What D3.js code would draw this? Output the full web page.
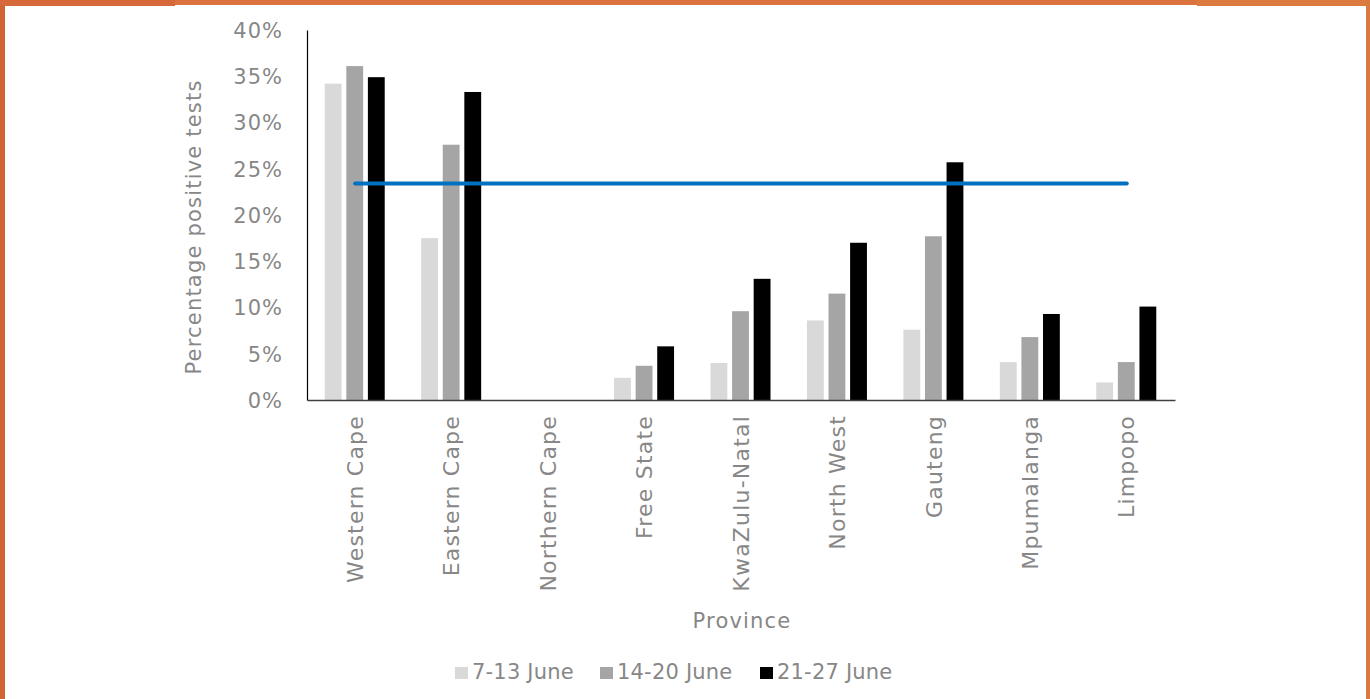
<!DOCTYPE html>
<html>
<head>
<meta charset="utf-8">
<script src="https://cdn.jsdelivr.net/npm/d3@7/dist/d3.min.js"></script>
<style>
  html, body { margin: 0; padding: 0; background: #fff; }
  svg { display: block; }
  text { font-family: "DejaVu Sans", sans-serif; fill: #878787; font-weight: 400; letter-spacing: 1.2px; }
</style>
</head>
<body>
<svg id="chart" width="1370" height="699"></svg>
<script>
const provinces = ["Western Cape", "Eastern Cape", "Northern Cape", "Free State", "KwaZulu-Natal", "North West", "Gauteng", "Mpumalanga", "Limpopo"];
const seriesNames = ["7-13 June", "14-20 June", "21-27 June"];
const week1 = [34.2, 17.5, 0, 2.4, 4.0, 8.6, 7.6, 4.1, 1.9];
const week2 = [36.1, 27.6, 0, 3.7, 9.6, 11.5, 17.7, 6.8, 4.1];
const week3 = [34.9, 33.3, 0, 5.8, 13.1, 17.0, 25.7, 9.3, 10.1];
const nationalAverage = 23.4;
const yTicks = [0, 5, 10, 15, 20, 25, 30, 35, 40];
const colors = ["#d9d9d9", "#a5a5a5", "#000000"];

(function () {
const svg = d3.select("#chart");
const W = 1370, H = 699;
const textFill = "#878787";

// frame border
svg.append("rect").attr("x", 0).attr("y", 0).attr("width", 5).attr("height", H).attr("fill", "#cf6535");
svg.append("rect").attr("x", 0).attr("y", 0).attr("width", 175).attr("height", 6).attr("fill", "#d6683a");
svg.append("rect").attr("x", 175).attr("y", 0).attr("width", 1022).attr("height", 5).attr("fill", "#dc723d");
svg.append("rect").attr("x", 1197).attr("y", 0).attr("width", 173).attr("height", 6).attr("fill", "#db793f");
svg.append("rect").attr("x", 1366).attr("y", 0).attr("width", 4).attr("height", H).attr("fill", "#da793f");

const mLeft = 307, mRight = 1175, mTop = 30, mBottom = 400;

const x = d3.scaleBand().domain(provinces).range([mLeft, mRight]).paddingInner(0).paddingOuter(0);
const y = d3.scaleLinear().domain([0, 40]).range([mBottom, mTop]);
const groupW = 60;
const xs = d3.scaleBand().domain(seriesNames).range([0, groupW]).paddingInner(0.22);
const groupOffset = (x.bandwidth() - groupW) / 2 - 0.5;

const data = [week1, week2, week3];

// bars
seriesNames.forEach((s, si) => {
  svg.append("g").selectAll("rect")
    .data(provinces.map((p, i) => ({p, v: data[si][i]})).filter(d => d.v > 0))
    .join("rect")
    .attr("x", d => x(d.p) + groupOffset + xs(s))
    .attr("width", xs.bandwidth())
    .attr("y", d => y(d.v))
    .attr("height", d => y(0) - y(d.v))
    .attr("fill", colors[si]);
});

// y axis
const yAxis = d3.axisLeft(y).tickValues(yTicks).tickFormat(d => d + "%").tickSize(0).tickPadding(24);
const gy = svg.append("g").attr("transform", `translate(${mLeft},0)`).call(yAxis);
gy.select(".domain").attr("stroke", "#000").attr("stroke-width", 1.2);
gy.selectAll("text").style("font-size", "21px").attr("fill", textFill).attr("dy", "0.35em")
  .style("font-family", "'DejaVu Sans', sans-serif").style("letter-spacing", "1px");

// x axis
const xAxis = d3.axisBottom(x).tickSize(0).tickPadding(0);
const gx = svg.append("g").attr("transform", `translate(0,${mBottom})`).call(xAxis);
gx.select(".domain").attr("stroke", "#404040").attr("stroke-width", 1.4);
gx.selectAll("text")
  .style("font-size", "22px")
  .style("font-family", "'DejaVu Sans', sans-serif")
  .attr("fill", textFill)
  .attr("text-anchor", "end")
  .attr("transform", "rotate(-90)")
  .attr("x", -15)
  .attr("y", 0)
  .attr("dy", "0.35em");

// average line
const line = d3.line().x(d => x(d.p) + x.bandwidth() / 2).y(d => y(d.v));
svg.append("path")
  .datum([{p: provinces[0], v: nationalAverage}, {p: provinces[provinces.length - 1], v: nationalAverage}])
  .attr("d", line)
  .attr("stroke", "#0070c0")
  .attr("stroke-width", 4)
  .attr("stroke-linecap", "round")
  .attr("fill", "none");

// axis titles
svg.append("text")
  .attr("transform", `translate(194,${(mTop + mBottom) / 2 + 12}) rotate(-90)`)
  .attr("text-anchor", "middle")
  .attr("dy", "0.35em")
  .style("font-size", "21px")
  .text("Percentage positive tests");

svg.append("text")
  .attr("x", 742).attr("y", 628)
  .attr("text-anchor", "middle")
  .style("font-size", "21px")
  .text("Province");

// legend
const legendX = [455, 600, 760];
const lg = svg.append("g");
seriesNames.forEach((s, i) => {
  lg.append("rect").attr("x", legendX[i]).attr("y", 667).attr("width", 13).attr("height", 12).attr("fill", colors[i]);
  lg.append("text").attr("x", legendX[i] + 17).attr("y", 679)
    .style("font-size", "21px").style("letter-spacing", "0.2px").text(s);
});
})();
</script>
</body>
</html>
